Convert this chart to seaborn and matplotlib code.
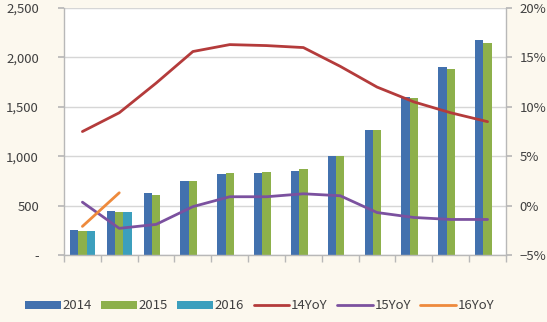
import numpy as np
import pandas as pd
import matplotlib
matplotlib.use("Agg")
import matplotlib.pyplot as plt
import seaborn as sns
from matplotlib.ticker import FuncFormatter, FixedLocator
from matplotlib.patches import Patch
from matplotlib.lines import Line2D

# Monthly values (left axis) and year-on-year growth in % (right axis)
months = ['1月', '2月', '3月', '4月', '5月', '6月', '7月', '8月', '9月', '10月', '11月', '12月']
sales_2014 = [250, 450, 625, 752, 820, 830, 853, 1000, 1268, 1600, 1905, 2180]
sales_2015 = [248, 432, 610, 750, 830, 843, 867, 1000, 1265, 1585, 1880, 2148]
sales_2016 = [245, 440]
yoy_14 = [7.5, 9.4, 12.4, 15.6, 16.3, 16.2, 16.0, 14.1, 12.0, 10.5, 9.4, 8.5]
yoy_15 = [0.35, -2.3, -1.9, -0.1, 0.9, 0.9, 1.2, 1.0, -0.7, -1.2, -1.4, -1.4]
yoy_16 = [-2.1, 1.3]

bar_colors = {'2014': '#4271AE', '2015': '#8DB04B', '2016': '#3C9FBD'}
line_colors = {'14YoY': '#B43B3B', '15YoY': '#7B519F', '16YoY': '#EE8A3C'}
bg = '#FCF8EE'
text_c = '#404040'
grid_c = '#D6D6D6'
axis_c = '#B8B8B8'

sns.set_theme(style='white')
plt.rcParams['font.family'] = ['Noto Sans CJK SC', 'DejaVu Sans']
plt.rcParams['axes.unicode_minus'] = True

rows = []
for year, vals in (('2014', sales_2014), ('2015', sales_2015), ('2016', sales_2016)):
    for m, v in zip(months, vals):
        rows.append({'month': m, 'year': year, 'value': v})
bars = pd.DataFrame(rows)

fig = plt.figure(figsize=(5.47, 3.22), dpi=100, facecolor=bg)
ax = fig.add_axes([0.117, 0.208, 0.808, 0.767])
ax.set_facecolor('white')

sns.barplot(data=bars, x='month', y='value', hue='year', order=months,
            hue_order=['2014', '2015', '2016'], palette=bar_colors,
            width=0.68, gap=0, saturation=1, ax=ax, legend=False,
            edgecolor='none', linewidth=0, zorder=2)

ax.set_ylim(0, 2500)
ax.set_xlim(-0.5, 11.5)
ax.set_xlabel('')
ax.set_ylabel('')
ax.yaxis.set_major_locator(FixedLocator([0, 500, 1000, 1500, 2000, 2500]))
ax.yaxis.set_major_formatter(FuncFormatter(lambda v, p: '-' if v == 0 else f'{int(v):,}'))
ax.grid(axis='y', color=grid_c, linewidth=1, zorder=0)
ax.set_axisbelow(True)

ax2 = ax.twinx()
x_idx = np.arange(len(months))
line_rows = []
for name, vals in (('14YoY', yoy_14), ('15YoY', yoy_15), ('16YoY', yoy_16)):
    for i, v in zip(x_idx, vals):
        line_rows.append({'x': i, 'series': name, 'yoy': v})
lines = pd.DataFrame(line_rows)
sns.lineplot(data=lines, x='x', y='yoy', hue='series', palette=line_colors,
             linewidth=2, ax=ax2, legend=False, sort=True)
ax2.set_ylim(-5, 20)
ax2.set_xlim(-0.5, 11.5)
ax2.set_ylabel('')
ax2.yaxis.set_major_locator(FixedLocator([-5, 0, 5, 10, 15, 20]))
ax2.yaxis.set_major_formatter(FuncFormatter(lambda v, p: f'{int(v)}%'.replace('-', '\u2212')))

for a in (ax, ax2):
    for s in a.spines.values():
        s.set_visible(False)
ax.spines['left'].set_visible(True)
ax.spines['bottom'].set_visible(True)
ax2.spines['right'].set_visible(True)
for s in (ax.spines['left'], ax.spines['bottom'], ax2.spines['right']):
    s.set_color(axis_c)
    s.set_linewidth(1)

# category separators on the x axis
ax.set_xticks(np.arange(len(months)))
ax.set_xticklabels(months)
ax.set_xticks(np.arange(-0.5, 12, 1), minor=True)
ax.tick_params(axis='x', which='major', length=0, pad=13, labelsize=9.5, labelcolor=text_c)
ax.tick_params(axis='x', which='minor', length=5, direction='out', color=axis_c, bottom=True)
ax.tick_params(axis='y', length=4, direction='out', color=axis_c, left=True,
               labelsize=9.5, labelcolor=text_c, pad=14)
ax2.tick_params(axis='y', length=4, direction='out', color=axis_c, right=True,
                labelsize=9.5, labelcolor=text_c, pad=6)
ax2.set_xticks([])

handles = [Patch(facecolor=c, edgecolor='none', label=k) for k, c in bar_colors.items()]
handles += [Line2D([0], [0], color=c, linewidth=2, label=k) for k, c in line_colors.items()]
fig.legend(handles=handles, loc='center', bbox_to_anchor=(0.475, 0.05), ncol=6,
           frameon=False, fontsize=9.5, handlelength=2.7, handleheight=0.55,
           handletextpad=0.15, columnspacing=0.7, labelcolor=text_c)

fig.savefig('out.png', dpi=100, facecolor=bg)
